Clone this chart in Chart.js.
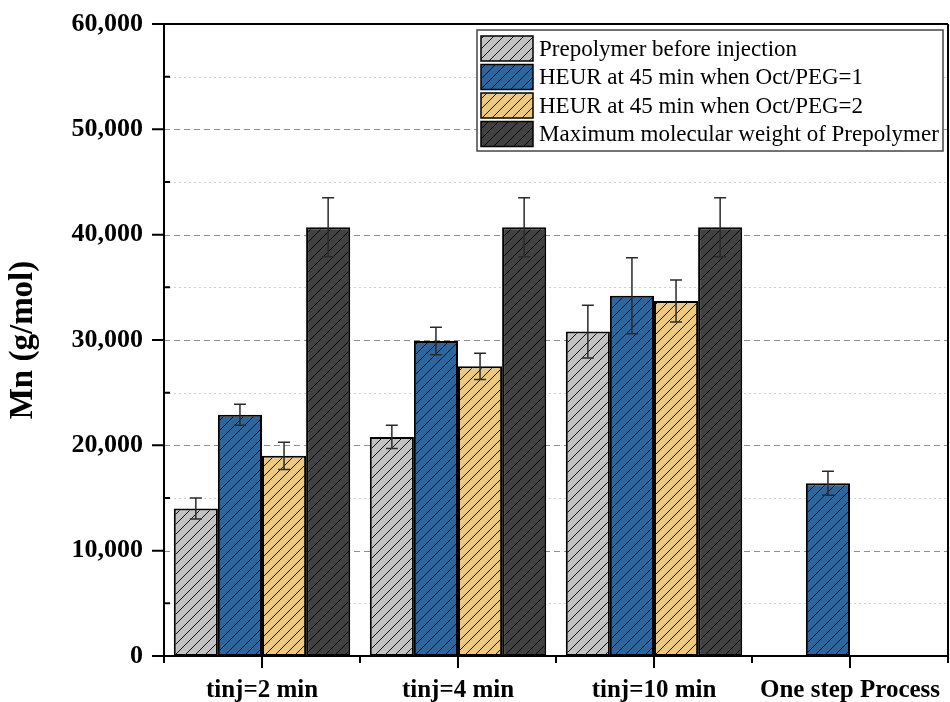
<!DOCTYPE html>
<html>
<head>
<meta charset="utf-8">
<script src="https://cdn.jsdelivr.net/npm/chart.js@4/dist/chart.umd.min.js"></script>
<style>
  html, body { margin: 0; padding: 0; background: #ffffff; }
  #wrap { width: 950px; height: 702px; }
</style>
</head>
<body>
<div id="wrap"><canvas id="c" width="950" height="702"></canvas></div>
<script>
// Number-average molecular weight per injection time
const categories = ['tinj=2 min', 'tinj=4 min', 'tinj=10 min', 'One step Process'];
const seriesNames = [
  'Prepolymer before injection',
  'HEUR at 45 min when Oct/PEG=1',
  'HEUR at 45 min when Oct/PEG=2',
  'Maximum molecular weight of Prepolymer'
];
const prepolymer        = [14000, 20800, 30800, null];
const prepolymerErr     = [1000, 1100, 2500, null];
const heurOct1          = [22900, 29900, 34200, 16400];
const heurOct1Err       = [1000, 1300, 3600, 1150];
const heurOct2          = [19000, 27500, 33700, null];
const heurOct2Err       = [1300, 1250, 2000, null];
const maxPrepolymer     = [40700, 40700, 40700, null];
const maxPrepolymerErr  = [2800, 2800, 2800, null];
const yMajorTicks = [0, 10000, 20000, 30000, 40000, 50000, 60000];
const yMinorTicks = [5000, 15000, 25000, 35000, 45000, 55000];

const fillColors = ['#c2c2c2', '#30659b', '#ebc883', '#414141'];
const SERIF = "'Liberation Serif', 'Times New Roman', serif";

// Diagonal "/" hatch laid over a solid base colour
function hatch(base) {
  const t = document.createElement('canvas');
  t.width = 10; t.height = 10;
  const g = t.getContext('2d');
  g.fillStyle = base;
  g.fillRect(0, 0, 10, 10);
  g.strokeStyle = 'rgba(0,0,0,0.9)';
  g.lineWidth = 1;
  g.beginPath();
  g.moveTo(-1, 11); g.lineTo(11, -1);
  g.moveTo(-6, 6); g.lineTo(6, -6);
  g.moveTo(4, 16); g.lineTo(16, 4);
  g.stroke();
  return document.getElementById('c').getContext('2d').createPattern(t, 'repeat');
}
const patterns = fillColors.map(hatch);

const values = [prepolymer, heurOct1, heurOct2, maxPrepolymer];
const errors = [prepolymerErr, heurOct1Err, heurOct2Err, maxPrepolymerErr];

const datasets = values.map((v, i) => ({
  label: seriesNames[i],
  data: v,
  backgroundColor: patterns[i],
  borderColor: '#000000',
  borderWidth: 2,
  borderSkipped: false,
  categoryPercentage: 0.9,
  barPercentage: 1.0
}));

// Dashed major / dotted minor horizontal grid
const gridPlugin = {
  id: 'gridLines',
  beforeDatasetsDraw(chart) {
    const { ctx, chartArea: a, scales: { y } } = chart;
    ctx.save();
    ctx.lineWidth = 1;
    yMinorTicks.forEach(v => {
      const py = Math.round(y.getPixelForValue(v)) + 0.5;
      ctx.strokeStyle = '#cfcfcf';
      ctx.setLineDash([2, 3]);
      ctx.beginPath(); ctx.moveTo(a.left, py); ctx.lineTo(a.right, py); ctx.stroke();
    });
    yMajorTicks.slice(1, -1).forEach(v => {
      const py = Math.round(y.getPixelForValue(v)) + 0.5;
      ctx.strokeStyle = '#8e8e8e';
      ctx.setLineDash([6, 4]);
      ctx.beginPath(); ctx.moveTo(a.left, py); ctx.lineTo(a.right, py); ctx.stroke();
    });
    ctx.restore();
  }
};

// Error bars, axis frame with tick marks, and the legend box
const overlayPlugin = {
  id: 'overlay',
  afterDatasetsDraw(chart) {
    const { ctx, chartArea: a, scales: { x, y } } = chart;
    ctx.save();

    // error bars
    ctx.strokeStyle = '#2a2a2a';
    ctx.lineWidth = 1.5;
    values.forEach((series, i) => {
      const meta = chart.getDatasetMeta(i);
      series.forEach((v, j) => {
        if (v === null) return;
        const e = errors[i][j];
        const px = meta.data[j].x;
        const yt = y.getPixelForValue(v + e);
        const yb = y.getPixelForValue(v - e);
        ctx.beginPath();
        ctx.moveTo(px, yt); ctx.lineTo(px, yb);
        ctx.moveTo(px - 6, yt); ctx.lineTo(px + 6, yt);
        ctx.moveTo(px - 6, yb); ctx.lineTo(px + 6, yb);
        ctx.stroke();
      });
    });

    // frame and axes
    ctx.strokeStyle = '#000000';
    ctx.lineWidth = 2;
    ctx.beginPath();
    ctx.moveTo(a.left, a.top); ctx.lineTo(a.left, a.bottom + 7);
    ctx.moveTo(a.left - 12, a.bottom); ctx.lineTo(a.right, a.bottom);
    ctx.moveTo(a.left - 12, a.top); ctx.lineTo(a.right, a.top);
    ctx.moveTo(a.right, a.top); ctx.lineTo(a.right, a.bottom + 7);
    ctx.stroke();

    // y ticks: major outward, minor inward
    ctx.beginPath();
    yMajorTicks.forEach(v => {
      const py = y.getPixelForValue(v);
      ctx.moveTo(a.left - 12, py); ctx.lineTo(a.left, py);
    });
    yMinorTicks.forEach(v => {
      const py = y.getPixelForValue(v);
      ctx.moveTo(a.left, py); ctx.lineTo(a.left + 6, py);
    });
    // x ticks: long at category centres, short at boundaries
    const step = (a.right - a.left) / categories.length;
    categories.forEach((c, i) => {
      const px = x.getPixelForValue(i);
      ctx.moveTo(px, a.bottom); ctx.lineTo(px, a.bottom + 12);
    });
    for (let k = 0; k <= categories.length; k++) {
      const px = a.left + k * step;
      ctx.moveTo(px, a.bottom); ctx.lineTo(px, a.bottom + 7);
    }
    ctx.stroke();

    // legend
    const lx = 477, ly = 30, lw = 466, lh = 121;
    ctx.fillStyle = '#ffffff';
    ctx.fillRect(lx, ly, lw, lh);
    ctx.strokeStyle = '#444444';
    ctx.lineWidth = 1.5;
    ctx.strokeRect(lx, ly, lw, lh);
    ctx.font = '23px ' + SERIF;
    ctx.textBaseline = 'middle';
    ctx.textAlign = 'left';
    seriesNames.forEach((name, i) => {
      const sy = 36 + i * 28.5;
      ctx.fillStyle = patterns[i];
      ctx.fillRect(481, sy, 52, 25);
      ctx.strokeStyle = '#000000';
      ctx.lineWidth = 1.5;
      ctx.strokeRect(481, sy, 52, 25);
      ctx.fillStyle = '#000000';
      ctx.fillText(name, 539, sy + 13.5);
    });

    ctx.restore();
  }
};

new Chart(document.getElementById('c'), {
  type: 'bar',
  data: { labels: categories, datasets },
  options: {
    responsive: false,
    devicePixelRatio: 1,
    animation: false,
    events: [],
    layout: { padding: { top: 24, right: 2, left: 0, bottom: 0 } },
    plugins: { legend: { display: false }, tooltip: { enabled: false } },
    scales: {
      x: {
        grid: { display: false, drawTicks: false },
        border: { display: false },
        ticks: {
          color: '#000000',
          font: { family: SERIF, size: 25, weight: 'bold' },
          padding: 20,
          maxRotation: 0,
          autoSkip: false
        },
        afterFit(s) { s.height = 46; s.paddingLeft = 0; s.paddingRight = 0; }
      },
      y: {
        min: 0,
        max: 60000,
        grid: { display: false, drawTicks: false },
        border: { display: false },
        ticks: {
          stepSize: 10000,
          color: '#000000',
          font: { family: SERIF, size: 26, weight: 'bold' },
          padding: 21,
          callback: v => v.toLocaleString('en-US')
        },
        title: {
          display: true,
          text: 'Mn (g/mol)',
          color: '#000000',
          font: { family: SERIF, size: 33, weight: 'bold' },
          padding: { top: 4, bottom: 0 }
        },
        afterFit(s) { s.width = 164; s.paddingTop = 0; s.paddingBottom = 0; }
      }
    }
  },
  plugins: [gridPlugin, overlayPlugin]
});
</script>
</body>
</html>
